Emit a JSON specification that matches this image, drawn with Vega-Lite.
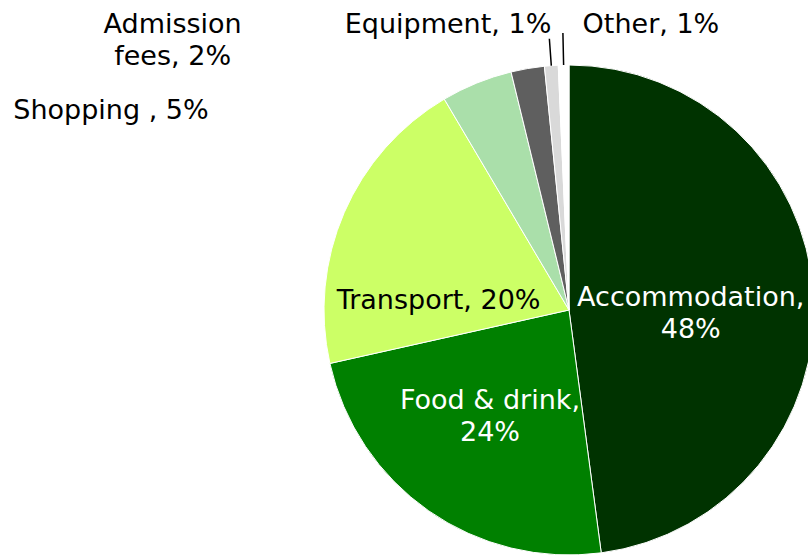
{
  "$schema": "https://vega.github.io/schema/vega-lite/v6.json",
  "width": 478,
  "height": 490,
  "autosize": {"type": "none"},
  "padding": {"left": 330, "top": 65, "right": 0, "bottom": 0},
  "background": "white",
  "config": {"view": {"stroke": null}, "font": "DejaVu Sans"},
  "data": {
    "values": [
      {"category": "Accommodation", "value": 47.9, "label": "Accommodation,\n48%"},
      {"category": "Food & drink", "value": 23.6, "label": "Food & drink,\n24%"},
      {"category": "Transport", "value": 20.0, "label": "Transport, 20%"},
      {"category": "Shopping", "value": 4.7, "label": "Shopping , 5%"},
      {"category": "Admission fees", "value": 2.2, "label": "Admission\nfees, 2%"},
      {"category": "Equipment", "value": 0.9, "label": "Equipment, 1%"},
      {"category": "Other", "value": 0.7, "label": "Other, 1%"}
    ]
  },
  "encoding": {
    "theta": {"field": "value", "type": "quantitative", "stack": true},
    "order": {"field": "value", "type": "quantitative", "sort": "descending"}
  },
  "layer": [
    {
      "mark": {"type": "arc", "radius": 245, "stroke": "white", "strokeWidth": 1},
      "encoding": {
        "color": {
          "field": "category",
          "type": "nominal",
          "legend": null,
          "scale": {
            "domain": ["Accommodation", "Food & drink", "Transport", "Shopping", "Admission fees", "Equipment", "Other"],
            "range": ["#003300", "#008000", "#CCFF66", "#AADFAA", "#5F5F5F", "#D9D9D9", "#FFFFFF"]
          }
        }
      }
    },
    {
      "mark": {"type": "arc", "radius": 272, "radius2": 245, "padAngle": 0.2, "fillOpacity": 0, "stroke": "black", "strokeWidth": 1.5},
      "encoding": {
        "strokeOpacity": {"condition": {"test": "datum.category === 'Equipment'", "value": 1}, "value": 0}
      }
    },
    {
      "mark": {"type": "arc", "radius": 277, "radius2": 245, "padAngle": 0.2, "fillOpacity": 0, "stroke": "black", "strokeWidth": 1.5},
      "encoding": {
        "strokeOpacity": {"condition": {"test": "datum.category === 'Other'", "value": 1}, "value": 0}
      }
    },
    {
      "mark": {"type": "text", "radius": 121, "dx": 1, "dy": -4, "align": "center", "baseline": "middle", "fontSize": 27, "lineHeight": 32, "lineBreak": "\n", "color": "white"},
      "encoding": {"text": {"condition": {"test": "datum.category === 'Accommodation'", "field": "label"}, "value": ""}}
    },
    {
      "mark": {"type": "text", "radius": 138, "dx": 0, "dy": -22, "align": "center", "baseline": "middle", "fontSize": 27, "lineHeight": 32, "lineBreak": "\n", "color": "white"},
      "encoding": {"text": {"condition": {"test": "datum.category === 'Food & drink'", "field": "label"}, "value": ""}}
    },
    {
      "mark": {"type": "text", "radius": 141, "dx": -1, "dy": 47, "align": "center", "baseline": "middle", "fontSize": 27, "lineHeight": 32, "lineBreak": "\n", "color": "black"},
      "encoding": {"text": {"condition": {"test": "datum.category === 'Transport'", "field": "label"}, "value": ""}}
    },
    {
      "mark": {"type": "text", "radius": 245, "dx": -268, "dy": 28, "align": "right", "baseline": "middle", "fontSize": 27, "lineHeight": 32, "lineBreak": "\n", "color": "black"},
      "encoding": {"text": {"condition": {"test": "datum.category === 'Shopping'", "field": "label"}, "value": ""}}
    },
    {
      "mark": {"type": "text", "radius": 245, "dx": -355, "dy": -44, "align": "center", "baseline": "middle", "fontSize": 27, "lineHeight": 32, "lineBreak": "\n", "color": "black"},
      "encoding": {"text": {"condition": {"test": "datum.category === 'Admission fees'", "field": "label"}, "value": ""}}
    },
    {
      "mark": {"type": "text", "radius": 245, "dx": 0, "dy": -41, "align": "right", "baseline": "middle", "fontSize": 27, "lineHeight": 32, "lineBreak": "\n", "color": "black"},
      "encoding": {"text": {"condition": {"test": "datum.category === 'Equipment'", "field": "label"}, "value": ""}}
    },
    {
      "mark": {"type": "text", "radius": 245, "dx": 19, "dy": -40, "align": "left", "baseline": "middle", "fontSize": 27, "lineHeight": 32, "lineBreak": "\n", "color": "black"},
      "encoding": {"text": {"condition": {"test": "datum.category === 'Other'", "field": "label"}, "value": ""}}
    }
  ]
}
